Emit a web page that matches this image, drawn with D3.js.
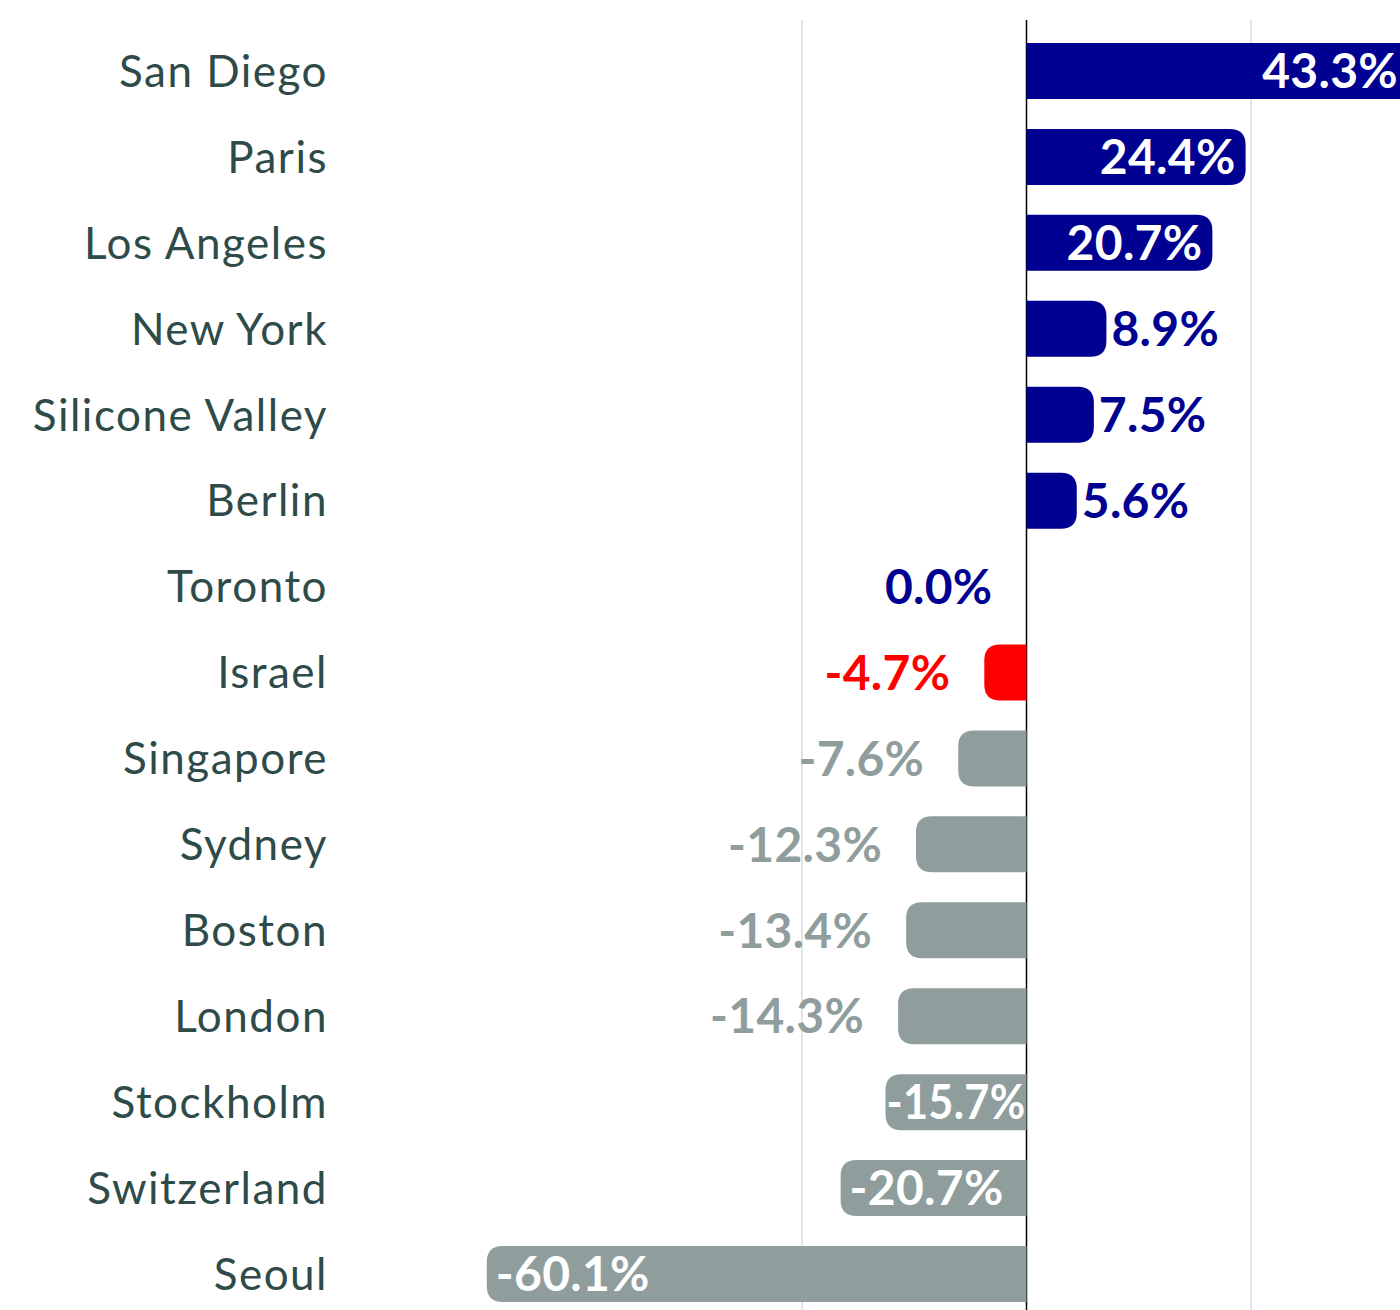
<!DOCTYPE html>
<html>
<head>
<meta charset="utf-8">
<script src="https://cdn.jsdelivr.net/npm/d3@7"></script>
<style>
  body { margin: 0; background: #fff; }
  .city { font-family: Lato, sans-serif; font-size: 44px; letter-spacing: 1.5px; fill: #2e4b49; }
  .val { font-family: Lato, sans-serif; font-size: 48px; font-weight: 700; letter-spacing: 0.3px; }
</style>
</head>
<body>
<script>
// chart data
var cities = ["San Diego", "Paris", "Los Angeles", "New York", "Silicone Valley", "Berlin",
              "Toronto", "Israel", "Singapore", "Sydney", "Boston", "London",
              "Stockholm", "Switzerland", "Seoul"]
var changes = [43.3, 24.4, 20.7, 8.9, 7.5, 5.6, 0.0, -4.7, -7.6, -12.3, -13.4, -14.3, -15.7, -20.7, -60.1]
var gridTicks = [-25, 0, 25]

var width = 1400, height = 1310
var navy = "#000091", red = "#ff0000", grey = "#8f9e9d"
var barH = 56, radius = 16

var data = cities.map(function(c, i) { return {"city": c, "v": changes[i]} })

var svg = d3.select("body").append("svg")
  .attr("width", width)
  .attr("height", height)

var x = d3.scaleLinear()
  .domain([-25, 25])
  .range([802, 1251])

var y = d3.scalePoint()
  .domain(cities)
  .range([71, 1274])

function colorOf(v) {
  if (v >= 0) return navy
  if (v > -5) return red
  return grey
}

// gridlines
svg.append("g").selectAll("line")
  .data(gridTicks)
  .enter().append("line")
  .attr("x1", function(d) { return x(d) })
  .attr("x2", function(d) { return x(d) })
  .attr("y1", 20)
  .attr("y2", height)
  .attr("stroke", function(d) { return d == 0 ? "#000" : "#ccd3d6" })
  .attr("stroke-width", function(d) { return d == 0 ? 1.5 : 1.2 })

// bars: square at zero, rounded at the far end
function barPath(d) {
  var x0 = x(0), x1 = x(d.v)
  var top = y(d.city) - barH / 2, bot = y(d.city) + barH / 2
  var w = Math.abs(x1 - x0)
  if (w < 0.5) return ""
  var r = Math.min(radius, w)
  var s = x1 > x0 ? 1 : -1
  return "M" + x0 + "," + top +
    "L" + (x1 - s * r) + "," + top +
    "Q" + x1 + "," + top + " " + x1 + "," + (top + r) +
    "L" + x1 + "," + (bot - r) +
    "Q" + x1 + "," + bot + " " + (x1 - s * r) + "," + bot +
    "L" + x0 + "," + bot + "Z"
}

var rows = svg.append("g").selectAll("g")
  .data(data)
  .enter().append("g")

rows.append("path")
  .attr("d", barPath)
  .attr("fill", function(d) { return colorOf(d.v) })

// city labels
rows.append("text")
  .attr("class", "city")
  .attr("x", 328)
  .attr("y", function(d) { return y(d.city) })
  .attr("dy", "0.36em")
  .attr("text-anchor", "end")
  .text(function(d) { return d.city })

// value labels: inside the bar when it is long enough
function inside(d) { return Math.abs(x(d.v) - x(0)) > 135 }

rows.append("text")
  .attr("class", "val")
  .attr("y", function(d) { return y(d.city) })
  .attr("dy", "0.36em")
  .attr("fill", function(d) { return inside(d) ? "#fff" : colorOf(d.v) })
  .attr("text-anchor", function(d) {
    if (d.v > 0) return inside(d) ? "end" : "start"
    return inside(d) ? "start" : "end"
  })
  .text(function(d) { return d.v.toFixed(1) + "%" })
  .each(function(d) {
    var t = d3.select(this)
    var xv = x(d.v)
    if (d.v > 0) {
      t.attr("x", inside(d) ? Math.min(xv - 10, width - 2) : xv + 5)
    } else if (!inside(d)) {
      t.attr("x", xv - 34)
    } else {
      // squeeze the label so it stays inside a short bar
      var room = x(0) - xv - 2
      var tw = this.getComputedTextLength()
      if (tw + 9 > room) {
        t.attr("x", xv + 1)
        if (tw > room) t.attr("textLength", room).attr("lengthAdjust", "spacingAndGlyphs")
      } else {
        t.attr("x", xv + 9)
      }
    }
  })
</script>
</body>
</html>
